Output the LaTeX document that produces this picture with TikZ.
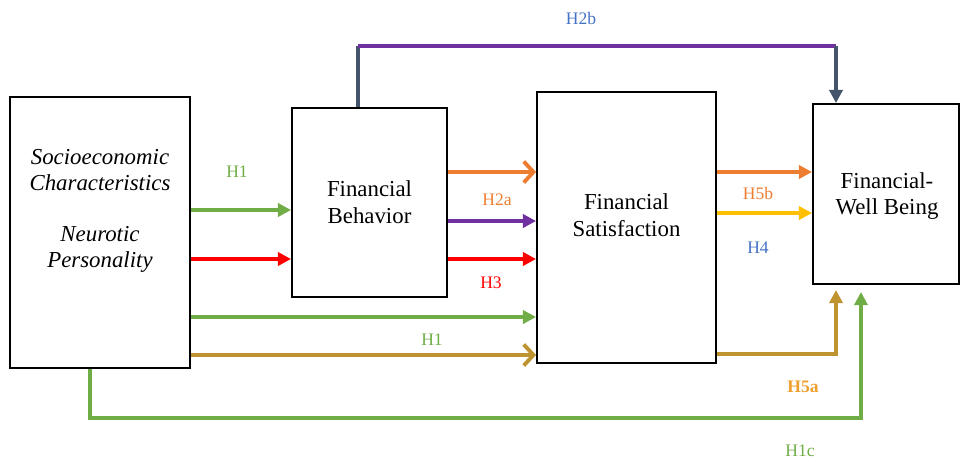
\documentclass[tikz,border=0pt]{standalone}
\usepackage{fontspec}
\setmainfont{Liberation Serif}
\usetikzlibrary{arrows.meta,positioning}

\definecolor{hgreen}{HTML}{70AD47}
\definecolor{hred}{HTML}{FF0000}
\definecolor{horange}{HTML}{ED7D31}
\definecolor{hpurple}{HTML}{7030A0}
\definecolor{hgold}{HTML}{BF9430}
\definecolor{hyellow}{HTML}{FFC000}
\definecolor{hblue}{HTML}{4472C4}
\definecolor{hslate}{HTML}{44546A}
\definecolor{hamber}{HTML}{EFA02E}

\begin{document}
\begin{tikzpicture}[x=0.02cm,y=-0.02cm,
	box/.style={draw=black,line width=1.1pt},
	boxtext/.style={align=center,font=\fontsize{13}{15.2}\selectfont},
	hyp/.style={line width=2.2pt,-{Triangle[length=7.5pt,width=7.5pt]}},
	hypopen/.style={line width=2.2pt,-{Straight Barb[length=5.5pt,width=12pt]}},
	lab/.style={font=\fontsize{10}{12}\selectfont}]
	
	\useasboundingbox (0,0) rectangle (961,458);
	
	% socioeconomic box
	\node[box,minimum width=3.6cm,minimum height=5.42cm] (socio) at (100,232.5){};
	\node[boxtext,font=\fontsize{13}{14.7}\selectfont\itshape] (socio1) at (100,211){Socioeconomic\\Characteristics\\~\\Neurotic\\Personality};
	
	% behavior box
	\node[box,minimum width=3.1cm,minimum height=3.78cm] (behav) at (369.5,202.5){};
	\node[boxtext] (behav1) at (behav.center){Financial\\Behavior};
	
	% satisfaction box
	\node[box,minimum width=3.58cm,minimum height=5.42cm] (satis) at (626.5,227.5){};
	\node[boxtext] (satis1) at (626.5,215){Financial\\Satisfaction};
	
	% well being box
	\node[box,minimum width=2.92cm,minimum height=3.6cm] (wellb) at (886,194){};
	\node[boxtext] (wellb1) at (887,196){Financial-\\Well Being};
	
	% free ends
	\coordinate (h2bleft) at (358,46);
	\coordinate (h2bright) at (836,46);
	\coordinate (h5aend) at (836,290);
	\coordinate (h1cturn) at (90,418);
	\coordinate (h1cend) at (861,292);
	
	% into behavior
	\draw[hyp,hgreen] (socio.east |- 0,210) -- (behav.west |- 0,210);
	\draw[hyp,hred] (socio.east |- 0,259) -- (behav.west |- 0,259);
	
	% behavior to satisfaction
	\draw[hypopen,horange] (behav.east |- 0,172) -- (satis.west |- 0,172);
	\draw[hyp,hpurple] (behav.east |- 0,221) -- (satis.west |- 0,221);
	\draw[hyp,hred] (behav.east |- 0,259) -- (satis.west |- 0,259);
	
	% socio to satisfaction
	\draw[hyp,hgreen] (socio.east |- 0,317) -- (satis.west |- 0,317);
	\draw[hypopen,hgold] (socio.east |- 0,355) -- (satis.west |- 0,355);
	
	% satisfaction to well being
	\draw[hyp,horange] (satis.east |- 0,172) -- (wellb.west |- 0,172);
	\draw[hyp,hyellow] (satis.east |- 0,213) -- (wellb.west |- 0,213);
	\draw[hyp,hgold] (satis.east |- 0,354) -| (h5aend);
	
	% behavior over the top
	\draw[hslate,line width=2.8pt] (behav.north -| h2bleft) -- (h2bleft);
	\draw[hpurple,line width=2.6pt] (h2bleft) -- (h2bright);
	\draw[hyp,hslate,line width=2.8pt] (h2bright) -- (wellb.north -| h2bright);
	
	% socio along the bottom
	\draw[hyp,hgreen] (socio.south -| h1cturn) -- (h1cturn) -| (h1cend);
	
	% labels
	\node[lab,text=hgreen] (l1) at (237,172){H1};
	\node[lab,text=horange] (l2a) at (497,200){H2a};
	\node[lab,text=hred] (l3) at (491,283){H3};
	\node[lab,text=hgreen] (l1b) at (432,340){H1};
	\node[lab,text=horange] (l5b) at (758,193){H5b};
	\node[lab,text=hblue] (l4) at (758,248){H4};
	\node[lab,text=hamber,font=\fontsize{10}{12}\selectfont\bfseries] (l5a) at (803,387){H5a};
	\node[lab,text=hgreen] (l1c) at (800,451){H1c};
	\node[lab,text=hblue] (l2b) at (581,18){H2b};
	
\end{tikzpicture}
\end{document}
